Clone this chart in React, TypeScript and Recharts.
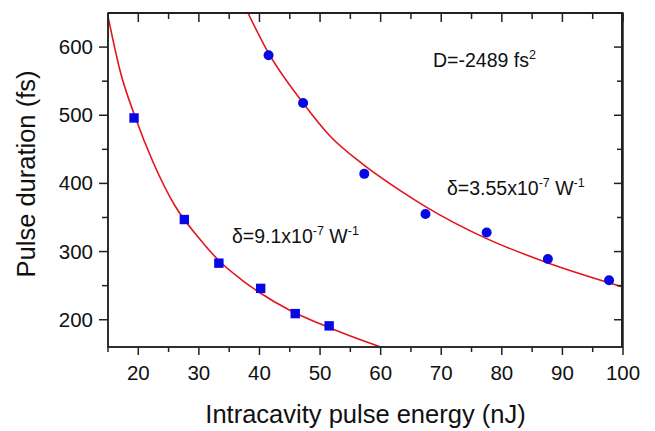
import {
  ComposedChart,
  Line,
  Scatter,
  XAxis,
  YAxis,
} from "recharts";

// measured points (nJ, fs)
const SQUARE_X = [19.3, 27.6, 33.3, 40.2, 45.9, 51.5];
const SQUARE_Y = [496, 347, 283, 246, 209, 191];
const CIRCLE_X = [41.5, 47.2, 57.3, 67.4, 77.5, 87.6, 97.7];
const CIRCLE_Y = [588, 518, 414, 355, 328, 289, 258];

// fit curves
const FIT1_X = [15, 17, 19.5, 22.5, 26, 30, 33.5, 37, 40, 45, 50, 55, 60];
const FIT1_Y = [645, 565, 497, 430, 368, 320, 285, 259, 240, 214, 194, 176, 160];
const FIT2_X = [38.1, 41.5, 47.2, 51.6, 57.1, 63.5, 67.4, 77.5, 87.4, 100];
const FIT2_Y = [650, 591, 518, 470, 428, 388, 366, 319, 284, 248];

const X_TICKS = [15, 20, 25, 30, 35, 40, 45, 50, 55, 60, 65, 70, 75, 80, 85, 90, 95, 100];
const Y_TICKS = [200, 250, 300, 350, 400, 450, 500, 550, 600, 650];
const X_DOMAIN = [15, 100];
const Y_DOMAIN = [160, 650];

const zip = (xs: number[], ys: number[]) => xs.map((x, i) => ({ x, y: ys[i] }));
const squares = zip(SQUARE_X, SQUARE_Y);
const circles = zip(CIRCLE_X, CIRCLE_Y);
const fit1 = zip(FIT1_X, FIT1_Y);
const fit2 = zip(FIT2_X, FIT2_Y);

const W = 647;
const H = 423;
const Y_AXIS_W = 100;
const X_AXIS_H = 84;
const MARGIN = { top: 5, right: 32, left: 0, bottom: 0 };
const PLOT = {
  left: MARGIN.left + Y_AXIS_W,
  top: MARGIN.top,
  right: W - MARGIN.right,
  bottom: H - MARGIN.bottom - X_AXIS_H,
};

const FONT = "'Liberation Sans', Arial, sans-serif";
const AXIS = "#222";
const BLUE = "#0808e6";
const RED = "#e3141c";

const isMajorX = (v: number) => v % 10 === 0;
const isMajorY = (v: number) => v % 100 === 0;

// same linear mapping as the chart's axes, for the mirrored frame ticks
const sx = (v: number) =>
  PLOT.left + ((v - X_DOMAIN[0]) / (X_DOMAIN[1] - X_DOMAIN[0])) * (PLOT.right - PLOT.left);
const sy = (v: number) =>
  PLOT.bottom - ((v - Y_DOMAIN[0]) / (Y_DOMAIN[1] - Y_DOMAIN[0])) * (PLOT.bottom - PLOT.top);

function BottomTick({ x, y, payload }: any) {
  const major = isMajorX(payload.value);
  return (
    <g>
      <line x1={x} y1={y} x2={x} y2={y + (major ? 8 : 5)} stroke={AXIS} strokeWidth={1.5} />
      {major && (
        <text x={x} y={y + 33} textAnchor="middle" fontSize={20.5} fontFamily={FONT} fill="#111">
          {payload.value}
        </text>
      )}
    </g>
  );
}

function LeftTick({ x, y, payload }: any) {
  const major = isMajorY(payload.value);
  if (payload.value > 600) return null;
  return (
    <g>
      <line x1={x - (major ? 9 : 6)} y1={y} x2={x} y2={y} stroke={AXIS} strokeWidth={1.5} />
      {major && (
        <text x={x - 15} y={y + 7} textAnchor="end" fontSize={20.5} fontFamily={FONT} fill="#111">
          {payload.value}
        </text>
      )}
    </g>
  );
}

const squareShape = (p: any) => (
  <rect x={p.cx - 4.7} y={p.cy - 4.7} width={9.4} height={9.4} fill={BLUE} />
);
const circleShape = (p: any) => <circle cx={p.cx} cy={p.cy} r={5} fill={BLUE} />;

export default function App() {
  return (
    <div style={{ position: "relative", width: W, height: H, background: "#fff" }}>
      <ComposedChart width={W} height={H} margin={MARGIN}>
        <XAxis
          type="number"
          dataKey="x"
          domain={X_DOMAIN}
          ticks={X_TICKS}
          interval={0}
          allowDataOverflow
          height={X_AXIS_H}
          tickSize={0}
          tickMargin={0}
          tick={<BottomTick />}
          axisLine={{ stroke: AXIS, strokeWidth: 1.5 }}
          tickLine={false}
          label={{
            value: "Intracavity pulse energy (nJ)",
            position: "insideBottom",
            offset: 8,
            fontSize: 25.5,
            fontFamily: FONT,
            fill: "#111",
          }}
        />
        <YAxis
          type="number"
          dataKey="y"
          domain={Y_DOMAIN}
          ticks={Y_TICKS}
          interval={0}
          allowDataOverflow
          width={Y_AXIS_W}
          tickSize={0}
          tickMargin={0}
          tick={<LeftTick />}
          axisLine={{ stroke: AXIS, strokeWidth: 1.5 }}
          tickLine={false}
          label={{
            value: "Pulse duration (fs)",
            angle: -90,
            position: "insideLeft",
            offset: 18,
            dy: -6,
            fontSize: 25.5,
            fontFamily: FONT,
            fill: "#111",
            style: { textAnchor: "middle" },
          }}
        />
        <Line
          data={fit1}
          dataKey="y"
          type="monotone"
          stroke={RED}
          strokeWidth={1.6}
          dot={false}
          isAnimationActive={false}
        />
        <Line
          data={fit2}
          dataKey="y"
          type="monotone"
          stroke={RED}
          strokeWidth={1.6}
          dot={false}
          isAnimationActive={false}
        />
        <Scatter data={squares} dataKey="y" shape={squareShape} isAnimationActive={false} />
        <Scatter data={circles} dataKey="y" shape={circleShape} isAnimationActive={false} />
      </ComposedChart>
      {/* top and right frame as a css border */}
      <div
        style={{
          position: "absolute",
          left: PLOT.left,
          top: PLOT.top - 1,
          width: PLOT.right - PLOT.left,
          height: PLOT.bottom - PLOT.top,
          borderTop: `2px solid ${AXIS}`,
          borderRight: `2px solid ${AXIS}`,
          boxSizing: "border-box",
          zIndex: 5,
          pointerEvents: "none",
        }}
      />
      <svg
        width={W}
        height={H}
        style={{ position: "absolute", left: 0, top: 0, pointerEvents: "none", zIndex: 6 }}
        fontFamily={FONT}
        fill="#111"
      >
        <rect
          x={PLOT.left}
          y={PLOT.top}
          width={PLOT.right - PLOT.left}
          height={PLOT.bottom - PLOT.top}
          fill="none"
          stroke={AXIS}
          strokeWidth={1.5}
        />
        {X_TICKS.map((v) => (
          <line
            key={"t" + v}
            x1={sx(v)}
            y1={PLOT.top}
            x2={sx(v)}
            y2={PLOT.top + (isMajorX(v) ? 9 : 6)}
            stroke={AXIS}
            strokeWidth={1.5}
          />
        ))}
        {Y_TICKS.filter((v) => v <= 600).map((v) => (
          <line
            key={"r" + v}
            x1={PLOT.right - (isMajorY(v) ? 9 : 6)}
            y1={sy(v)}
            x2={PLOT.right}
            y2={sy(v)}
            stroke={AXIS}
            strokeWidth={1.5}
          />
        ))}
        <text x={425} y={59} fontSize={19.5}>
          D=-2489 fs<tspan fontSize={12.5} dy={-8}>2</tspan>
        </text>
        <text x={224} y={235} fontSize={19.5}>
          δ=9.1x10<tspan fontSize={12.5} dy={-8}>-7</tspan>
          <tspan dy={8}> W</tspan>
          <tspan fontSize={12.5} dy={-8}>-1</tspan>
        </text>
        <text x={439} y={187} fontSize={19.5}>
          δ=3.55x10<tspan fontSize={12.5} dy={-8}>-7</tspan>
          <tspan dy={8}> W</tspan>
          <tspan fontSize={12.5} dy={-8}>-1</tspan>
        </text>
      </svg>
    </div>
  );
}
